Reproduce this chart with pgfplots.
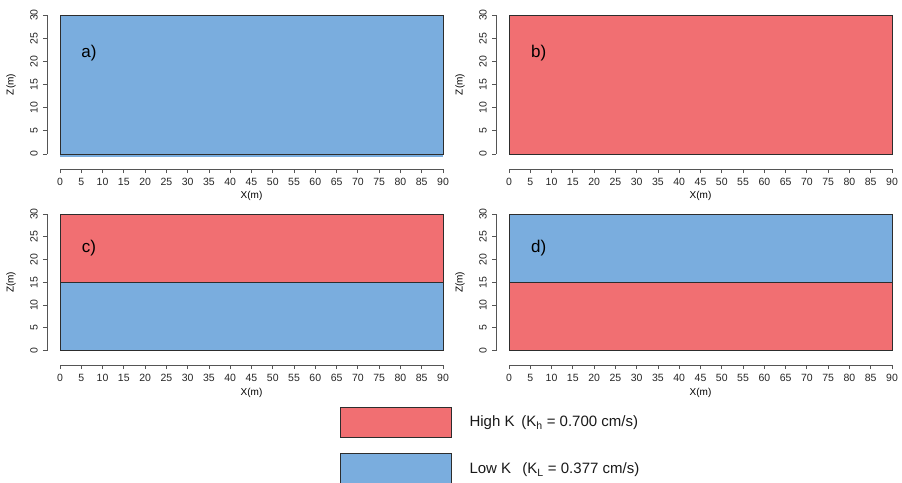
\documentclass[border=0pt]{standalone}
\usepackage{pgfplots}
\pgfplotsset{compat=1.18}
\usepackage{fontspec}
\setmainfont{Liberation Sans}

\definecolor{highK}{RGB}{241,111,114}
\definecolor{lowK}{RGB}{122,173,222}
\definecolor{edge}{RGB}{45,45,45}
\definecolor{axisgray}{RGB}{85,85,85}

\pgfplotsset{
  rpanel/.style={
    anchor=south west, scale only axis, width=383pt,
    xmin=0, xmax=90, ymin=0, ymax=30,
    clip=false, no markers,
    axis x line*=bottom, axis y line*=left,
    axis line style={-, draw=axisgray, line width=0.8pt},
    xtick={0,5,...,90}, ytick={0,5,...,30},
    tick align=outside, major tick length=4pt,
    every tick/.style={draw=axisgray, line width=0.8pt},
    /pgf/number format/assume math mode=true,
    tick label style={font=\fontsize{10.5}{12}\selectfont, text=black!85},
    xticklabel style={anchor=north, inner sep=5pt},
    xlabel={X(m)}, ylabel={Z(m)},
    label style={font=\fontsize{10.5}{12}\selectfont, text=black!85},
    every axis x label/.style={at={(axis description cs:0.5,0)}, anchor=center, yshift=-42pt},
    every axis y label/.style={at={(axis description cs:0,0.5)}, xshift=-49pt, rotate=90, anchor=center},
  },
  rticks/.style={
    yticklabel style={rotate=90, anchor=south, inner sep=5pt},
  },
}
\tikzset{panel tag/.style={font=\fontsize{17}{20}\selectfont}}

\begin{document}
\begin{tikzpicture}
\useasboundingbox (0,0) rectangle (902pt,-482pt);

% a) homogeneous low-K domain
\begin{axis}[rpanel, at={(60pt,-154pt)}, height=139pt,
  axis x line shift=15pt, axis y line shift=13pt, rticks]
  \addplot[fill=lowK, draw=none] coordinates {(0,-0.6) (90,-0.6) (90,30) (0,30)} -- cycle;
  \addplot[draw=edge, line width=1pt] coordinates {(0,0) (90,0) (90,30) (0,30)} -- cycle;
  \node[panel tag] at (axis cs:6.8,21.8) {a)};
\end{axis}

% b) homogeneous high-K domain
\begin{axis}[rpanel, at={(509pt,-154pt)}, height=139pt,
  axis x line shift=15pt, axis y line shift=13pt, rticks]
  \addplot[fill=highK, draw=edge, line width=1pt] coordinates {(0,0) (90,0) (90,30) (0,30)} -- cycle;
  \node[panel tag] at (axis cs:7.0,21.8) {b)};
\end{axis}

% c) high-K layer over low-K layer
\begin{axis}[rpanel, at={(60pt,-350.5pt)}, height=136.5pt,
  axis x line shift=14.5pt, axis y line shift=13pt, rticks]
  \addplot[fill=lowK, draw=edge, line width=1pt] coordinates {(0,0) (90,0) (90,15) (0,15)} -- cycle;
  \addplot[fill=highK, draw=edge, line width=1pt] coordinates {(0,15) (90,15) (90,30) (0,30)} -- cycle;
  \node[panel tag] at (axis cs:6.8,22.4) {c)};
\end{axis}

% d) low-K layer over high-K layer
\begin{axis}[rpanel, at={(509pt,-350.5pt)}, height=136.5pt,
  axis x line shift=14.5pt, axis y line shift=13pt, rticks]
  \addplot[fill=highK, draw=edge, line width=1pt] coordinates {(0,0) (90,0) (90,15) (0,15)} -- cycle;
  \addplot[fill=lowK, draw=edge, line width=1pt] coordinates {(0,15) (90,15) (90,30) (0,30)} -- cycle;
  \node[panel tag] at (axis cs:7.0,22.4) {d)};
\end{axis}

% legend
\filldraw[fill=highK, draw=edge, line width=1pt] (340pt,-407.5pt) rectangle (451pt,-437pt);
\node[anchor=west, font=\fontsize{15}{17}\selectfont, text=black!90] at (466pt,-423pt)
  {High K\hspace{0.45em}(K\textsubscript{h} = 0.700 cm/s)};
\filldraw[fill=lowK, draw=edge, line width=1pt] (340pt,-453.5pt) rectangle (451pt,-490pt);
\node[anchor=west, font=\fontsize{15}{17}\selectfont, text=black!90] at (466pt,-470pt)
  {Low K\hspace{0.75em}(K\textsubscript{L} = 0.377 cm/s)};
\end{tikzpicture}
\end{document}
